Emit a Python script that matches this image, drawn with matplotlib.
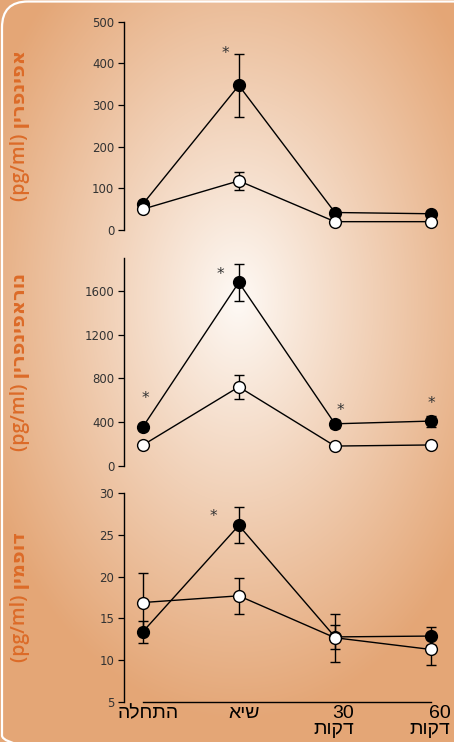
import matplotlib
matplotlib.use("Agg")
import matplotlib.pyplot as plt
import numpy as np
from matplotlib.patches import FancyBboxPatch

# Время измерения (позиции по оси X)
stages = [0, 1, 2, 3]
stage_labels = ["התחלה", "שיא", "30\nדקות", "60\nדקות"]

# Адреналин (pg/ml)
epi_filled = [62, 347, 42, 39]
epi_filled_err = [8, 75, 5, 5]
epi_open = [50, 118, 20, 20]
epi_open_err = [5, 21, 3, 3]
epi_stars = [(1, 424)]

# Норадреналин (pg/ml)
nor_filled = [355, 1675, 385, 410]
nor_filled_err = [30, 165, 35, 50]
nor_open = [190, 722, 182, 192]
nor_open_err = [15, 112, 10, 10]
nor_stars = [(0, 617), (1, 1752), (2, 511), (3, 572)]

# Дофамин (pg/ml)
dop_filled = [13.4, 26.1, 12.8, 12.9]
dop_filled_err = [1.3, 2.15, 1.4, 1.1]
dop_open = [16.9, 17.7, 12.7, 11.3]
dop_open_err = [3.5, 2.15, 2.85, 1.9]
dop_stars = [(1, 27.2)]

y_titles = ["אפינפרין", "נוראפינפרין", "דופמין"]


def heb(s):
    # matplotlib не делает bidi: иврит переворачиваем построчно вручную
    return "\n".join(p if p.isdigit() else p[::-1] for p in s.split("\n"))


W, H = 454, 742
fig = plt.figure(figsize=(W / 100, H / 100), dpi=100)

# Фон: радиальный градиент от светлого центра к оранжевым краям
bg = fig.add_axes([0, 0, 1, 1], zorder=-10)
yy, xx = np.mgrid[0:H, 0:W]
d = np.sqrt(((xx - 238) / 280.0) ** 2 + ((yy - 300) / 420.0) ** 2)
t = np.clip(d, 0, 1) ** 0.95
c0 = np.array([254, 250, 246]) / 255.0
c1 = np.array([228, 166, 118]) / 255.0
img = c0[None, None, :] * (1 - t[..., None]) + c1[None, None, :] * t[..., None]
bg.imshow(img, extent=[0, W, H, 0], aspect="auto")
bg.add_patch(FancyBboxPatch((2, 1.5), 480, 760, boxstyle="round,pad=0,rounding_size=26",
                            fill=False, ec="white", lw=1.6))
bg.set_xlim(0, W)
bg.set_ylim(H, 0)
bg.axis("off")

# Положение панелей в пикселях (верх, низ)
panels = [(21.7, 230.0), (257.8, 466.0), (492.7, 702.3)]
left = 124 / W
width = 3.395 * 96.1 / W

data = [
    (epi_filled, epi_filled_err, epi_open, epi_open_err, epi_stars, (0, 500), [0, 100, 200, 300, 400, 500]),
    (nor_filled, nor_filled_err, nor_open, nor_open_err, nor_stars, (0, 1900), [0, 400, 800, 1200, 1600]),
    (dop_filled, dop_filled_err, dop_open, dop_open_err, dop_stars, (5, 30), [5, 10, 15, 20, 25, 30]),
]
star_dx = [[-0.135], [0.03, -0.19, 0.06, 0.0], [-0.27]]
heb_font = ["Liberation Sans", "DejaVu Sans"]

for i, ((top, bot), (fy, fe, oy, oe, stars, ylim, yt)) in enumerate(zip(panels, data)):
    ax = fig.add_axes([left, (H - bot) / H, width, (bot - top) / H])
    ax.patch.set_alpha(0)

    ax.errorbar(stages, fy, yerr=fe, fmt="-o", color="black", mfc="black", mec="black",
                ms=8.5, lw=1, elinewidth=1, capsize=3.5, capthick=1, zorder=3)
    ax.errorbar(stages, oy, yerr=oe, fmt="-o", color="black", mfc="white", mec="black",
                ms=8.5, mew=1, lw=1, elinewidth=1, capsize=3.5, capthick=1, zorder=4)

    for (sx, sy), dx in zip(stars, star_dx[i]):
        ax.text(sx + dx, sy, "*", ha="center", va="center", fontsize=11, color="#333333")

    ax.set_xlim(-0.195, 3.2)
    ax.set_ylim(*ylim)
    ax.set_yticks(yt)
    ax.tick_params(axis="y", length=4, width=0.9, labelsize=8.5, labelcolor="#333333", pad=3)
    ax.tick_params(axis="x", length=0, labelbottom=False)
    for s in ["top", "right"]:
        ax.spines[s].set_visible(False)
    ax.spines["left"].set_linewidth(1)

    if i < 2:
        ax.spines["bottom"].set_visible(False)
    else:
        ax.spines["bottom"].set_bounds(0, 3)
        ax.spines["bottom"].set_linewidth(1)
        for x, lab in zip(stages, stage_labels):
            if "\n" not in lab:
                ax.text(x + 0.06, -0.015, heb(lab), transform=ax.get_xaxis_transform(),
                        ha="center", va="top", fontsize=14, family=heb_font)
            else:
                ax.text(x + 0.2, -0.015, heb(lab), transform=ax.get_xaxis_transform(),
                        ha="right", va="top", multialignment="right", fontsize=14,
                        linespacing=0.9, family=heb_font)

    # Подпись оси Y: "(pg/ml)" снизу, название сверху
    fig.text(20 / W, (H - (top + bot) / 2) / H, "(pg/ml) " + heb(y_titles[i]),
             rotation=90, ha="center", va="center", fontsize=14, fontweight="semibold",
             color="#dc6b28", family=["Open Sans", "DejaVu Sans"])

fig.savefig("out.png", dpi=100)
